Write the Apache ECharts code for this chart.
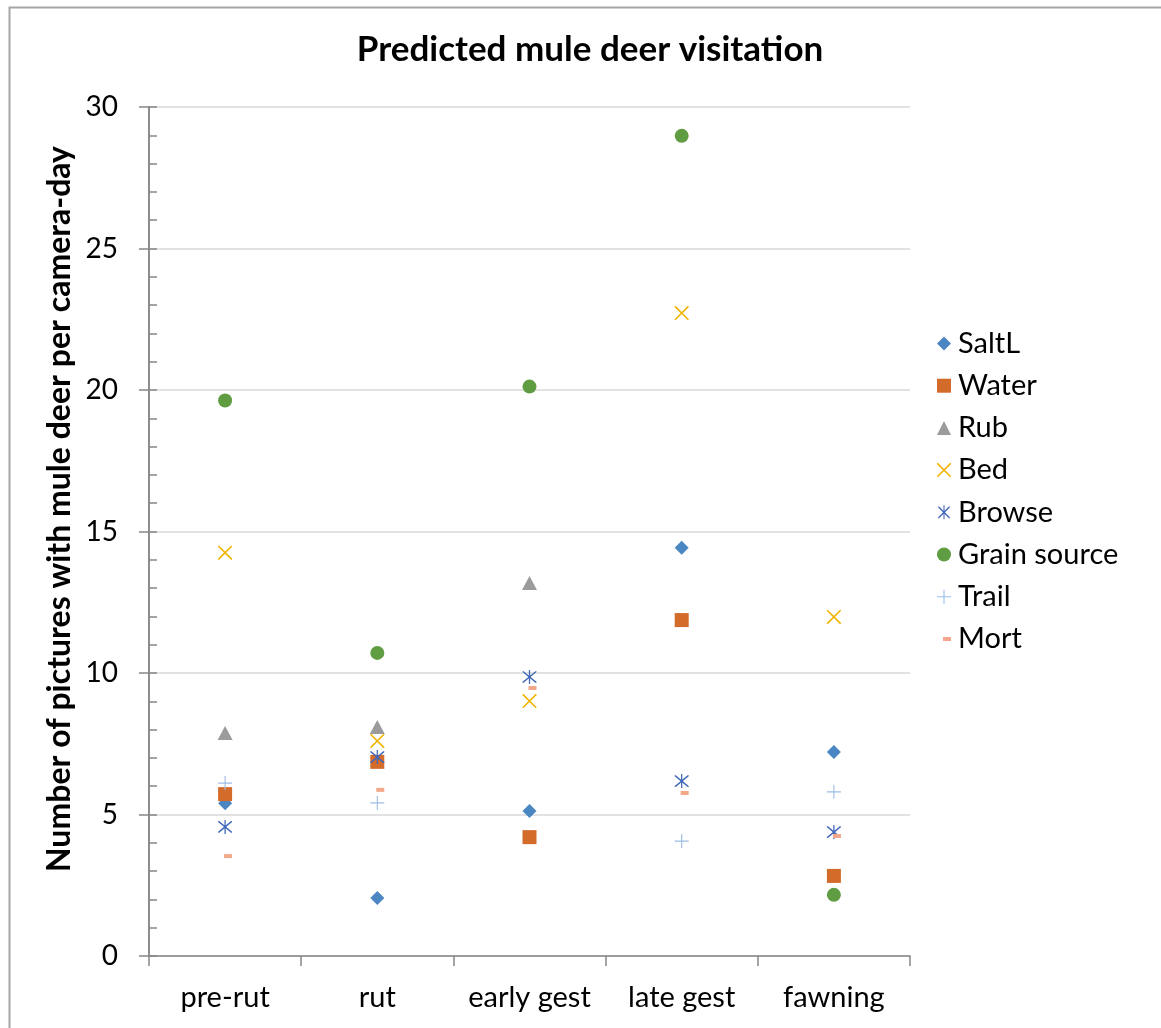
<!DOCTYPE html>
<html>
<head>
<meta charset="utf-8">
<script src="https://cdn.jsdelivr.net/npm/echarts@6/dist/echarts.min.js"></script>
<style>
html,body{margin:0;padding:0;background:#fff;}
#chart{width:1161px;height:1028px;}
</style>
</head>
<body>
<div id="chart"></div>
<script>
const categories = ['pre-rut', 'rut', 'early gest', 'late gest', 'fawning'];
const saltL  = [5.40, 2.05, 5.12, 14.43, 7.21];
const water  = [5.72, 6.86, 4.20, 11.87, 2.83];
const rub    = [7.88, 8.09, 13.18, null, null];
const bed    = [14.25, 7.60, 9.01, 22.72, 11.98];
const browse = [4.56, 7.03, 9.86, 6.18, 4.38];
const grain  = [19.63, 10.71, 20.12, 28.98, 2.16];
const trail  = [6.11, 5.41, null, 4.06, 5.80];
const mort   = [3.53, 5.87, 9.47, 5.76, 4.24];
const yTicks = [0, 5, 10, 15, 20, 25, 30];

const FONT = 'Lato, "Open Sans", sans-serif';

const X_PATH = 'path://M0,0 L0.8,0 L10,9.2 L10,10 L9.2,10 L0,0.8 Z M9.2,0 L10,0 L10,0.8 L0.8,10 L0,10 L0,9.2 Z';
const STAR_PATH = 'path://M0,0 L0.8,0 L10,9.2 L10,10 L9.2,10 L0,0.8 Z M9.2,0 L10,0 L10,0.8 L0.8,10 L0,10 L0,9.2 Z M4.55,-1 L5.45,-1 L5.45,11 L4.55,11 Z M4,4 L6,4 L6,6 L4,6 Z';
const PLUS_PATH = 'path://M4.6,0 L5.4,0 L5.4,10 L4.6,10 Z M0,4.6 L10,4.6 L10,5.4 L0,5.4 Z';
const DASH_ICON = 'path://M0,0 L0.001,0 L0,0.001 Z M14,14 L13.999,14 L14,13.999 Z M6,5 L14,5 L14,9 L6,9 Z';

function s(name, data, symbol, size, color, extra) {
  return Object.assign({
    name: name, type: 'scatter', data: data, symbol: symbol, symbolSize: size,
    itemStyle: { color: color, opacity: 1 },
    emphasis: { disabled: true }
  }, extra || {});
}

const chart = echarts.init(document.getElementById('chart'));
chart.setOption({
  animation: false,
  backgroundColor: '#fff',
  title: {
    text: 'Predicted mule deer visitation',
    left: 585, top: 27, textAlign: 'center',
    textStyle: { fontFamily: FONT, fontSize: 35, fontWeight: 'bold', color: '#000' }
  },
  graphic: [
    { type: 'rect', left: 7, top: 5, shape: { width: 1175, height: 1045 }, silent: true,
      style: { fill: 'none', stroke: '#a6a6a6', lineWidth: 2 } },
    { type: 'text', x: 60, y: 509, rotation: Math.PI / 2, silent: true,
      style: { text: 'Number of pictures with mule deer per camera-day', fontFamily: FONT, fontSize: 32, fontWeight: 'bold',
        fill: '#000', align: 'center', verticalAlign: 'middle' } }
  ],
  legend: {
    orient: 'vertical', left: 932, top: 324,
    itemWidth: 14, itemHeight: 14, itemGap: 13.2,
    textStyle: { fontFamily: FONT, fontSize: 29, color: '#000', padding: [0, 0, 0, 2] },
    data: ['SaltL', 'Water', 'Rub', 'Bed', 'Browse', 'Grain source', 'Trail', { name: 'Mort', icon: DASH_ICON }]
  },
  grid: { left: 149, top: 107, width: 761, height: 849, containLabel: false },
  xAxis: {
    type: 'category', data: categories, boundaryGap: true,
    axisLine: { lineStyle: { color: '#868686', width: 1.5 } },
    axisTick: { show: true, interval: 0, length: 10, lineStyle: { color: '#868686', width: 1.5 } },
    axisLabel: { interval: 0, hideOverlap: false, fontFamily: FONT, fontSize: 29, color: '#000', margin: 27 },
    splitLine: { show: false }
  },
  yAxis: [
    {
      type: 'value', min: 0, max: 30, interval: 5, position: 'left',
      axisLine: { show: true, lineStyle: { color: '#868686', width: 1.5 } },
      axisTick: { show: true, length: 10, lineStyle: { color: '#868686', width: 1.5 } },
      axisLabel: { fontFamily: FONT, fontSize: 28, color: '#000', margin: 31,
        formatter: function (v) { return yTicks.indexOf(v) >= 0 ? String(v) : ''; } },
      splitLine: { show: true, lineStyle: { color: '#d9d9d9', width: 1.5 } }
    },
    {
      type: 'value', min: 0, max: 30, interval: 1, position: 'left', offset: 0,
      axisLine: { show: true, lineStyle: { color: '#868686', width: 1.5 } },
      axisTick: { show: true, inside: true, length: 8, lineStyle: { color: '#868686', width: 1.5 } },
      axisLabel: { show: false },
      splitLine: { show: false }
    }
  ],
  series: [
    s('SaltL', saltL, 'diamond', 14, '#4a86c1'),
    s('Water', water, 'rect', 14, '#d36b2a'),
    s('Rub', rub, 'triangle', [15, 14], '#9b9b9b'),
    s('Bed', bed, X_PATH, 14, '#f0b400'),
    s('Browse', browse, STAR_PATH, 14, '#4067b8'),
    s('Grain source', grain, 'circle', 14, '#609c41'),
    s('Trail', trail, PLUS_PATH, 14, '#9ebde6'),
    s('Mort', mort, 'rect', [8, 4], '#f3a88a', { symbolOffset: [3, 0] })
  ]
});
</script>
</body>
</html>
